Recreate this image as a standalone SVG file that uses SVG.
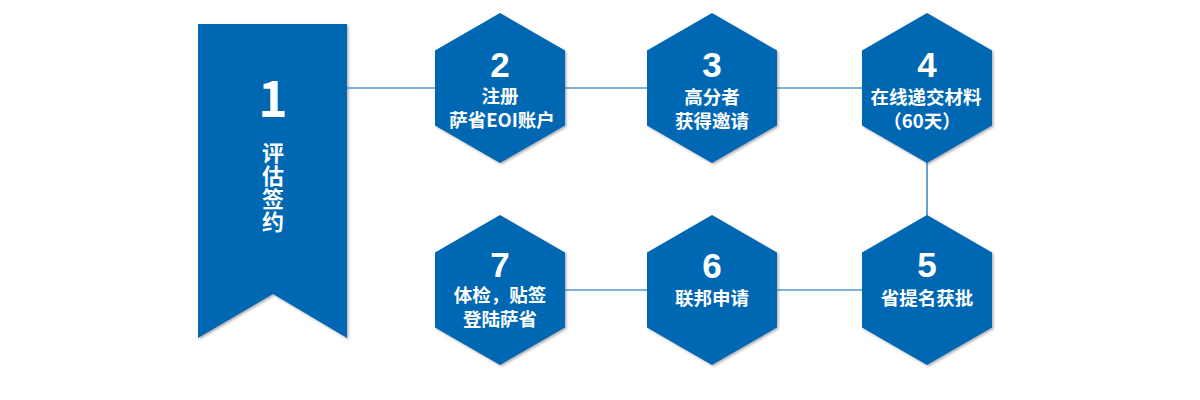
<svg xmlns="http://www.w3.org/2000/svg" xmlns:xlink="http://www.w3.org/1999/xlink" width="1200" height="400" viewBox="0 0 1200 400">
  <defs>
    <filter id="sh" x="-10%" y="-10%" width="125%" height="125%">
      <feDropShadow dx="1.5" dy="1.5" stdDeviation="0.8" flood-color="#555" flood-opacity="0.45"/>
    </filter>
    <polygon id="hex" points="0,-75 65,-37.5 65,37.5 0,75 -65,37.5 -65,-37.5"/>
  </defs>
  <style>
    .shape { fill: #0067b3; filter: url(#sh); }
    .conn { fill: none; stroke: #0067b3; stroke-width: 1.2; }
    .t { font-family: "Noto Sans CJK SC", "Liberation Sans", sans-serif; font-weight: bold; fill: #ffffff; text-anchor: middle; font-size: 18.5px; }
    .num { font-size: 35px; font-family: "Liberation Sans", "Noto Sans CJK SC", sans-serif; }
    .vert { font-size: 22px; writing-mode: vertical-rl; text-orientation: upright; letter-spacing: 1px; }
  </style>
  <rect width="1200" height="400" fill="#ffffff"/>

  <g id="connectors">
    <path class="conn" d="M347,88 H927 V290 H500"/>
  </g>

  <g id="node1">
    <polygon class="shape" points="198,24 347,24 347,338 273,294 198,338"/>
    <text class="t" x="273" y="117" style="font-size:50px" font-family="Liberation Sans, sans-serif">1</text>
    <text class="t vert" x="273" y="188">评估签约</text>
  </g>

  <g id="node2">
    <use href="#hex" xlink:href="#hex" class="shape" transform="translate(500,88)"/>
    <text class="t"><tspan class="num" x="500" y="77">2</tspan><tspan x="500" y="103">注册</tspan><tspan x="502" y="127">萨省EOI账户</tspan></text>
  </g>

  <g id="node3">
    <use href="#hex" xlink:href="#hex" class="shape" transform="translate(712,88)"/>
    <text class="t"><tspan class="num" x="712" y="77">3</tspan><tspan x="712" y="104">高分者</tspan><tspan x="712" y="128">获得邀请</tspan></text>
  </g>

  <g id="node4">
    <use href="#hex" xlink:href="#hex" class="shape" transform="translate(927,88)"/>
    <text class="t"><tspan class="num" x="927" y="77">4</tspan><tspan x="926" y="104">在线递交材料</tspan><tspan x="922" y="128">（60天）</tspan></text>
  </g>

  <g id="node5">
    <use href="#hex" xlink:href="#hex" class="shape" transform="translate(927,290)"/>
    <text class="t"><tspan class="num" x="927" y="277">5</tspan><tspan x="927" y="305">省提名获批</tspan></text>
  </g>

  <g id="node6">
    <use href="#hex" xlink:href="#hex" class="shape" transform="translate(712,290)"/>
    <text class="t"><tspan class="num" x="712" y="278">6</tspan><tspan x="712" y="305">联邦申请</tspan></text>
  </g>

  <g id="node7">
    <use href="#hex" xlink:href="#hex" class="shape" transform="translate(500,290)"/>
    <text class="t"><tspan class="num" x="500" y="276.5">7</tspan><tspan x="500" y="301.5">体检，贴签</tspan><tspan x="500" y="325.5">登陆萨省</tspan></text>
  </g>
</svg>
